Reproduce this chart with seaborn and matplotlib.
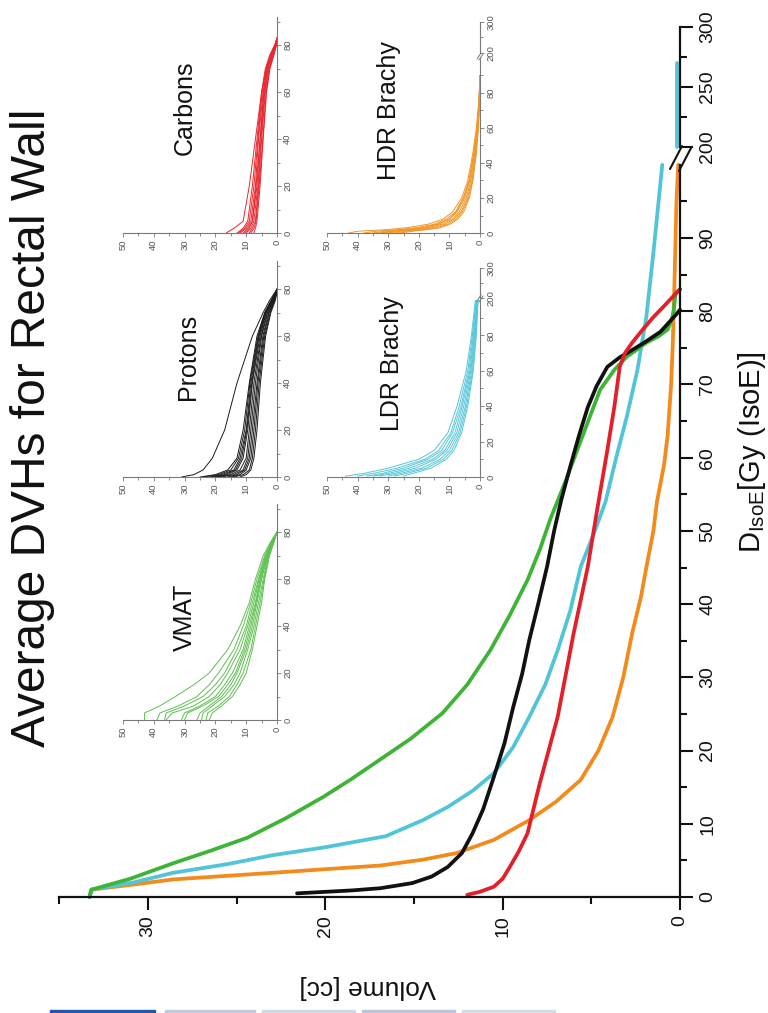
import numpy as np
import pandas as pd
import matplotlib
matplotlib.use("Agg")
import matplotlib.pyplot as plt
import seaborn as sns
from matplotlib.lines import Line2D
from matplotlib.patches import Rectangle

# ---------------- main averaged DVHs (volume [cc] vs dose [Gy]) ----------------
vmat_dose = [0, 1.0, 2.5, 4.6, 6.3, 8.1, 10.8, 13.7, 16, 18.3, 21.6, 25.1, 29, 33.7, 38.5, 43.3, 47.5,
             51.7, 56.5, 61, 65.5, 69.3, 72, 73.8, 74.8, 75.7, 76.6, 77.5, 79, 80.2, 82.5, 83]
vmat_vol = [33.3, 33.2, 31, 28.6, 26.5, 24.4, 22.2, 20.1, 18.6, 17.2, 15.2, 13.4, 12, 10.7, 9.6, 8.6, 7.9,
            7.3, 6.5, 5.8, 5.1, 4.5, 3.7, 3.0, 2.4, 1.9, 1.2, 0.7, 0.45, 0.35, 0.25, 0]

prot_dose = [0.5, 0.9, 1.2, 1.9, 2.8, 4.1, 6, 8.7, 12, 16.4, 21, 26, 30.5, 35.1, 40, 45.1, 50, 54.2,
             58.7, 63, 66.9, 69.8, 72.4, 73.7, 74.7, 75.9, 77.2, 78.8, 79.6, 80.2]
prot_vol = [21.6, 18.5, 16.9, 15.1, 14, 13.1, 12.3, 11.7, 11.1, 10.5, 9.9, 9.4, 8.9, 8.5, 8.0, 7.5, 7.1, 6.7,
            6.2, 5.7, 5.2, 4.7, 4.1, 3.4, 2.7, 1.9, 1.1, 0.5, 0.2, 0]

carb_dose = [0.3, 0.7, 1.4, 2.5, 4.1, 6.2, 8.7, 15.6, 24.6, 36, 45.1, 52.5, 61, 67, 72.4, 74.3, 75.7,
             77.5, 79.2, 80.7, 82, 83]
carb_vol = [12.0, 11.3, 10.5, 10, 9.6, 9.1, 8.6, 7.9, 6.9, 6.0, 5.2, 4.7, 4.1, 3.7, 3.4, 3.1, 2.7,
            2.1, 1.5, 0.9, 0.4, 0]

ldr_dose = [0, 1, 2, 3.3, 4.5, 5.7, 6.8, 8.3, 10.5, 12.3, 14.5, 16.9, 20.5, 24.6, 29, 33.7, 39, 45.1,
            50, 54, 60, 65.6, 72, 79.2, 88, 100]
ldr_vol = [33.3, 33.2, 30.8, 28.6, 25.5, 23, 20, 16.6, 14.5, 13.1, 11.7, 10.5, 9.4, 8.5, 7.6, 6.9, 6.2, 5.6,
           4.8, 4.2, 3.6, 3.0, 2.4, 1.9, 1.5, 1.0]
ldr_hi_dose = [200, 270]
ldr_hi_vol = [0.15, 0.15]

hdr_dose = [0, 1, 1.8, 2.4, 2.9, 3.3, 3.8, 4.3, 5.1, 6.0, 7.8, 10.5, 13, 16, 20, 24.6, 30, 36, 41, 45,
            50, 54, 59, 63, 70, 76, 85, 95, 100]
hdr_vol = [33.3, 33.2, 30.5, 28.6, 25.5, 23, 20, 16.9, 14.5, 12.6, 10.5, 8.5, 7, 5.6, 4.6, 3.8, 3.2, 2.7,
           2.2, 1.9, 1.5, 1.3, 0.9, 0.7, 0.5, 0.4, 0.3, 0.2, 0.1]

# ---------------- individual patient DVHs (insets) ----------------
carb_pts_dose = [0, 2, 5, 20, 40, 60, 70, 76, 80, 83]
carb_pts = [
    [16.5, 14, 11, 9, 7, 5, 3.5, 2, 0.7, 0],
    [13, 11, 9.5, 8, 6.5, 5, 3.8, 2.3, 0.8, 0],
    [12, 10, 8.5, 7, 6, 4.5, 3.3, 1.8, 0.5, 0],
    [11, 9.5, 8, 6.8, 5.5, 4.2, 3.0, 1.6, 0.4, 0],
    [10, 8.5, 7.5, 6.2, 5.2, 4, 2.8, 1.4, 0.3, 0],
    [9, 8, 7, 6, 5, 3.8, 2.6, 1.2, 0.2, 0],
    [8.5, 7.5, 6.8, 5.8, 4.6, 3.5, 2.4, 1.0, 0.2, 0],
    [12.5, 10.5, 9, 7.5, 6.2, 4.8, 3.5, 2.0, 0.6, 0],
    [10.5, 9, 8, 6.5, 5.5, 4.3, 3.2, 1.7, 0.5, 0],
    [7.5, 7, 6.5, 5.5, 4.5, 3.4, 2.3, 1.0, 0.2, 0],
]
carb_tail_dose = [83, 90]
carb_tail_vol = [0.1, 0.1]
prot_pts_dose = [0, 1, 3, 8, 20, 40, 60, 70, 75, 78, 80]
prot_pts = [
    [31, 27, 24, 21, 17, 13, 8, 4.5, 2.5, 1, 0],
    [25, 20, 16, 13, 11, 9, 6.5, 4, 2, 0.8, 0],
    [22, 18, 14, 12, 10, 8.5, 6, 3.8, 1.8, 0.6, 0],
    [20, 16, 13, 11, 9.5, 8, 5.5, 3.5, 1.6, 0.5, 0],
    [19, 15, 12, 10, 9, 7.5, 5.2, 3.2, 1.4, 0.4, 0],
    [18, 14, 11, 9.5, 8.5, 7, 5, 3, 1.2, 0.3, 0],
    [16, 13, 10.5, 9, 8, 6.5, 4.6, 2.7, 1.0, 0.3, 0],
    [15, 12, 10, 8.5, 7.5, 6.2, 4.3, 2.5, 0.9, 0.2, 0],
    [14, 11, 9, 8, 7, 5.8, 4, 2.2, 0.8, 0.2, 0],
    [12, 10, 8.5, 7.5, 6.5, 5.4, 3.7, 2, 0.6, 0.1, 0],
    [24, 19, 15, 12.5, 10.5, 8.8, 6.2, 3.9, 1.9, 0.7, 0],
    [21, 17, 13.5, 11.5, 9.8, 8.2, 5.8, 3.6, 1.7, 0.5, 0],
]
vmat_pts_dose = [0, 3, 6, 10, 15, 20, 30, 40, 50, 60, 70, 76, 80]
vmat_pts = [
    [43, 43, 38, 33, 27, 22, 16, 12, 9, 7, 4.5, 2, 0],
    [39, 38, 32, 26, 22, 19, 14, 11, 8.5, 6.5, 4, 1.8, 0],
    [36.5, 36, 30, 24, 20, 17, 13, 10, 8, 6, 3.8, 1.6, 0],
    [36, 34, 27, 22, 18.5, 16, 12, 9.5, 7.5, 5.8, 3.5, 1.5, 0],
    [31, 30, 25, 20, 17, 14.5, 11, 9, 7, 5.5, 3.3, 1.4, 0],
    [26, 25, 22, 18, 15, 13, 10, 8, 6.5, 5, 3, 1.2, 0],
    [24.5, 24, 21, 17, 14, 12, 9.5, 7.5, 6, 4.5, 2.8, 1.1, 0],
    [23, 22.5, 19, 15.5, 13, 11, 8.5, 7, 5.5, 4.2, 2.6, 1, 0],
    [22, 21, 18, 14.5, 12, 10, 8, 6.5, 5, 4, 2.4, 0.9, 0],
    [30, 29, 24, 19, 16, 13.5, 10.5, 8.5, 6.8, 5.2, 3.2, 1.3, 0],
]
hdr_pts_dose = [0, 1, 2, 3, 5, 8, 12, 20, 30, 45, 60, 75, 90]
hdr_pts = [
    [43, 40, 30, 24, 17, 12, 9, 6, 4, 2.4, 1.2, 0.4, 0],
    [38, 34, 26, 21, 15, 11, 8, 5.5, 3.6, 2.1, 1, 0.3, 0],
    [35, 31, 24, 19, 14, 10, 7.5, 5, 3.3, 1.9, 0.9, 0.3, 0],
    [32, 28, 22, 17, 12.5, 9, 6.8, 4.5, 3, 1.7, 0.8, 0.2, 0],
    [30, 26, 20, 15.5, 11.5, 8.5, 6.2, 4.1, 2.7, 1.5, 0.7, 0.2, 0],
    [28, 24, 18, 14, 10.5, 7.8, 5.8, 3.8, 2.5, 1.4, 0.6, 0.2, 0],
    [26, 22, 17, 13, 9.8, 7.2, 5.3, 3.5, 2.3, 1.2, 0.5, 0.1, 0],
    [33, 29, 23, 18, 13.5, 10, 7.8, 5.3, 3.5, 2, 1, 0.3, 0],
]
hdr_hi_dose = [200, 300]
hdr_hi_vol = [0.1, 0.1]
ldr_pts_dose = [0.5, 2, 5, 10, 15, 25, 40, 60, 80, 100]
ldr_pts = [
    [44, 38, 30, 20, 15, 10.5, 7.5, 4.5, 2.8, 1.5],
    [40, 35, 27, 18, 13.5, 9.5, 6.8, 4, 2.5, 1.3],
    [37, 32, 25, 17, 12.5, 9, 6.2, 3.6, 2.2, 1.1],
    [35, 30, 23, 15.5, 11.5, 8.2, 5.8, 3.3, 2, 1],
    [33, 28, 21, 14.5, 10.8, 7.6, 5.3, 3.0, 1.8, 0.9],
    [30, 26, 19, 13, 10, 7, 4.8, 2.7, 1.6, 0.8],
    [28, 24, 17.5, 12, 9.2, 6.5, 4.4, 2.4, 1.4, 0.7],
    [25, 22, 16, 11, 8.5, 6, 4, 2.2, 1.2, 0.6],
]
ldr_pts_hi_dose = [200, 300]
ldr_pts_hi_vol = [0.1, 0.1]

main_vol_ticks = [0, 10, 20, 30]
main_dose_ticks_lo = [0, 10, 20, 30, 40, 50, 60, 70, 80, 90]
main_dose_ticks_hi = [200, 250, 300]

C_GREEN, C_BLACK, C_RED, C_CYAN, C_ORANGE = "#3fb337", "#111111", "#e3202a", "#52c4d8", "#f28a1c"
CI_GREEN, CI_RED, CI_CYAN, CI_ORANGE = "#5cc04f", "#e8262e", "#55c6d8", "#f0962a"

sns.set_theme(style="white")
plt.rcParams['font.family'] = ['Liberation Sans', 'DejaVu Sans']

W, H = 768, 1013
fig = plt.figure(figsize=(W / 100, H / 100), dpi=100)


def px_axes(x0, x1, y_top, y_bot):
    ax = fig.add_axes([x0 / W, (H - y_bot) / H, (x1 - x0) / W, (y_bot - y_top) / H])
    ax.patch.set_alpha(0)
    return ax


def fig_line(p0, p1, **kw):
    fig.add_artist(Line2D([p0[0] / W, p1[0] / W], [1 - p0[1] / H, 1 - p1[1] / H],
                          transform=fig.transFigure, **kw))


def bundle(doses, curves):
    rows = []
    for i, c in enumerate(curves):
        for d, v in zip(doses, c):
            rows.append((i, d, v))
    return pd.DataFrame(rows, columns=["pid", "dose", "vol"])


# ---------------- main axes ----------------
x_left = 680 - 35 * 17.73
ax = px_axes(x_left, 680, 897 - 100 * 7.322, 897)
axh = px_axes(x_left, 680, 27, 147)

for a in (ax, axh):
    a.set_xlim(35, 0)
    for s in ("top", "left"):
        a.spines[s].set_visible(False)
    a.spines["right"].set_linewidth(1.6)
    a.spines["right"].set_color("#111")
    a.yaxis.tick_right()
    a.grid(False)
ax.spines["bottom"].set_linewidth(1.6)
ax.spines["bottom"].set_color("#111")
axh.spines["bottom"].set_visible(False)
ax.set_ylim(0, 100)
axh.set_ylim(200, 300)

for d, v, c in [(hdr_dose, hdr_vol, C_ORANGE), (ldr_dose, ldr_vol, C_CYAN),
                (vmat_dose, vmat_vol, C_GREEN), (prot_dose, prot_vol, C_BLACK),
                (carb_dose, carb_vol, C_RED)]:
    sns.lineplot(x=v, y=d, sort=False, estimator=None, ax=ax, color=c, lw=2.7, clip_on=False)
sns.lineplot(x=ldr_hi_vol, y=ldr_hi_dose, sort=False, estimator=None, ax=axh, color=C_CYAN, lw=2.7, clip_on=False)

ax.set_xticks(main_vol_ticks)
ax.set_xticks([5, 15, 25, 35], minor=True)
ax.set_yticks(main_dose_ticks_lo)
ax.set_yticks([5, 15, 25, 35, 45, 55, 65, 75, 85, 95], minor=True)
axh.set_yticks(main_dose_ticks_hi)
axh.set_yticks([225, 275], minor=True)
axh.set_xticks([])
for a in (ax, axh):
    a.tick_params(axis="both", which="major", direction="out", length=9, width=1.5,
                  color="#111", labelcolor="#111", labelsize=14, labelrotation=90)
    a.tick_params(axis="both", which="minor", direction="out", length=5, width=1.5, color="#111")
    a.tick_params(axis="y", which="both", right=True, left=False, pad=5)
    for lab in a.get_yticklabels():
        lab.set_va("center")
        lab.set_ha("left")
ax.tick_params(axis="x", which="both", bottom=True, top=False, pad=4)
ax.set_xlabel("")
ax.set_ylabel("")
axh.set_xlabel("")
axh.set_ylabel("")

# axis break marks
fig_line((670, 169), (682, 146), color="#111", lw=1.5)
fig_line((679, 171), (691, 148), color="#111", lw=1.5)

# labels and title
fig.text(33 / W, 1 - 428 / H, "Average DVHs for Rectal Wall", rotation=90, fontsize=34.5,
         ha="center", va="center", color="#111")
fig.text(368 / W, 1 - 987 / H, "Volume [cc]", rotation=180, fontsize=19,
         ha="center", va="center", color="#111")
fig.text(752 / W, 1 - 452 / H, r"D$_{\mathregular{IsoE}}$[Gy (IsoE)]", rotation=90, fontsize=21,
         ha="center", va="center", color="#111")


# ---------------- insets ----------------
def style_inset(a, ylim, yt, ytm, show_x=True):
    a.set_xlim(50, 0)
    a.set_ylim(*ylim)
    a.grid(False)
    for s in ("top", "left"):
        a.spines[s].set_visible(False)
    for s in ("bottom", "right"):
        a.spines[s].set_color("#7a7a7a")
        a.spines[s].set_linewidth(0.8)
    if not show_x:
        a.spines["bottom"].set_visible(False)
        a.set_xticks([])
    else:
        a.set_xticks([0, 10, 20, 30, 40, 50])
        a.set_xticks([5, 15, 25, 35, 45], minor=True)
    a.yaxis.tick_right()
    a.set_yticks(yt)
    a.set_yticks(ytm, minor=True)
    a.tick_params(axis="both", which="major", direction="out", length=3, width=0.6,
                  color="#777", labelcolor="#555", labelsize=6.8, labelrotation=90, pad=1.5)
    a.tick_params(axis="both", which="minor", direction="out", length=1.8, width=0.6, color="#777")
    a.tick_params(axis="y", which="both", right=True, left=False)
    if show_x:
        a.tick_params(axis="x", which="both", bottom=True, top=False)
    for lab in a.get_yticklabels():
        lab.set_va("center")
        lab.set_ha("left")
    a.set_xlabel("")
    a.set_ylabel("")


def draw_bundle(a, doses, curves, color):
    df = bundle(doses, curves)
    sns.lineplot(data=df, x="vol", y="dose", units="pid", estimator=None, sort=False,
                 ax=a, color=color, lw=0.7, legend=False)
    a.set_xlabel("")
    a.set_ylabel("")


single = [
    (123, 277, 17, 233, carb_pts_dose, carb_pts, CI_RED, "Carbons", (185, 108)),
    (123, 277, 261, 477, prot_pts_dose, prot_pts, "#1a1a1a", "Protons", (188, 357)),
    (123, 277, 504, 720, vmat_pts_dose, vmat_pts, CI_GREEN, "VMAT", (185, 617)),
]
for x0, x1, yt_, yb_, dd, cc, col, title, tpos in single:
    a = px_axes(x0, x1, yt_, yb_)
    draw_bundle(a, dd, cc, col)
    if title == "Carbons":
        sns.lineplot(x=carb_tail_vol, y=carb_tail_dose, sort=False, estimator=None, ax=a,
                     color=col, lw=0.7, clip_on=False)
    style_inset(a, (0, 92), [0, 20, 40, 60, 80], [10, 30, 50, 70, 90])
    fig.text(tpos[0] / W, 1 - tpos[1] / H, title, rotation=90, fontsize=18,
             ha="center", va="center", color="#111")

broken = [
    (327, 480, 58, 233, 22, 53, hdr_pts_dose, hdr_pts, hdr_hi_dose, hdr_hi_vol, CI_ORANGE, "HDR Brachy", (389, 111)),
    (327, 480, 300, 477, 268, 298, ldr_pts_dose, ldr_pts, ldr_pts_hi_dose, ldr_pts_hi_vol, CI_CYAN, "LDR Brachy", (392, 364)),
]
for x0, x1, ylt, ylb, yht, yhb, dd, cc, hd, hv, col, title, tpos in broken:
    a = px_axes(x0, x1, ylt, ylb)
    draw_bundle(a, dd, cc, col)
    style_inset(a, (0, 100), [0, 20, 40, 60, 80], [10, 30, 50, 70, 90])
    b = px_axes(x0, x1, yht, yhb)
    sns.lineplot(x=hv, y=hd, sort=False, estimator=None, ax=b, color=col, lw=0.8, clip_on=False)
    style_inset(b, (200, 300), [200, 300], [250], show_x=False)
    fig_line((x1 - 3, ylt + 1), (x1 + 1, ylt - 5), color="#777", lw=0.7)
    fig_line((x1 - 1, ylt + 2), (x1 + 3, ylt - 4), color="#777", lw=0.7)
    fig.text(tpos[0] / W, 1 - tpos[1] / H, title, rotation=90, fontsize=18,
             ha="center", va="center", color="#111")

# thin coloured strip at the very bottom of the page
for x0, x1, c in [(50, 155, "#1f5aa6"), (165, 255, "#c0c9df"), (262, 355, "#d3d8e6"),
                  (362, 455, "#bcc4dc"), (462, 555, "#d8dce9")]:
    fig.patches.append(Rectangle((x0 / W, 0), (x1 - x0) / W, 3 / H, transform=fig.transFigure,
                                 color=c, zorder=0))

fig.savefig("out.png", dpi=100)
